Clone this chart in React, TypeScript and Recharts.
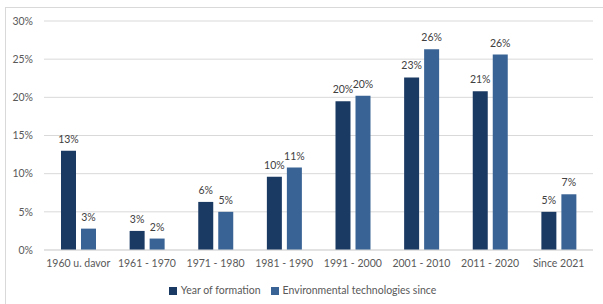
import { Bar, BarChart, CartesianGrid, LabelList, Legend, XAxis, YAxis } from "recharts"

const categories = [
  "1960 u. davor",
  "1961 - 1970",
  "1971 - 1980",
  "1981 - 1990",
  "1991 - 2000",
  "2001 - 2010",
  "2011 - 2020",
  "Since 2021",
]
const yearOfFormation = [13.0, 2.5, 6.3, 9.6, 19.5, 22.6, 20.8, 5.0]
const envTechSince = [2.8, 1.5, 5.0, 10.8, 20.2, 26.3, 25.6, 7.3]
const yTicks = [0, 5, 10, 15, 20, 25, 30]
const seriesOrder = ["formation", "env"]

const data = categories.map((name, i) => ({
  name,
  formation: yearOfFormation[i],
  env: envTechSince[i],
}))

const font = "Lato, 'Open Sans', sans-serif"
const pct = (v: any) => `${Math.round(Number(v))}%`

export default function App() {
  return (
    <div style={{ position: "fixed", left: 0, top: 0, width: 603, height: 304, background: "#fff", fontFamily: font }}>
      <div
        style={{
          position: "absolute",
          left: 5,
          top: 7,
          right: 0,
          bottom: 0,
          borderTop: "1px solid #d9d9d9",
          borderLeft: "1px solid #d9d9d9",
        }}
      />
      <div style={{ position: "absolute", left: 0, top: 0 }}>
        <BarChart
          width={603}
          height={304}
          data={data}
          margin={{ top: 21, right: 10, bottom: 0, left: 0 }}
          barSize={15}
          barGap={5}
        >
          <CartesianGrid vertical={false} stroke="#d9d9d9" />
          <XAxis
            dataKey="name"
            height={30}
            tickLine={false}
            axisLine={{ stroke: "#d9d9d9" }}
            tick={{ fill: "#595959", fontSize: 10.5, fontFamily: font }}
            tickMargin={4}
            interval={0}
          />
          <YAxis
            width={44}
            domain={[0, 30]}
            ticks={yTicks}
            tickFormatter={(v) => `${v}%`}
            tickLine={false}
            axisLine={false}
            tickMargin={5}
            tick={{ fill: "#595959", fontSize: 10.5, fontFamily: font }}
          />
          <Legend
            verticalAlign="bottom"
            height={24}
            iconType="square"
            iconSize={8}
            itemSorter={(item: any) => seriesOrder.indexOf(String(item.dataKey))}
            wrapperStyle={{ fontSize: 10.5, fontFamily: font, bottom: -4, left: 11 }}
            formatter={(value) => <span style={{ color: "#595959" }}>{value}</span>}
          />
          <Bar dataKey="formation" name="Year of formation" fill="#1b3a63" isAnimationActive={false}>
            <LabelList dataKey="formation" position="top" offset={8} formatter={pct} fill="#404040" fontSize={10.5} fontFamily={font} />
          </Bar>
          <Bar dataKey="env" name="Environmental technologies since" fill="#386394" isAnimationActive={false}>
            <LabelList dataKey="env" position="top" offset={8} formatter={pct} fill="#404040" fontSize={10.5} fontFamily={font} />
          </Bar>
        </BarChart>
      </div>
    </div>
  )
}
